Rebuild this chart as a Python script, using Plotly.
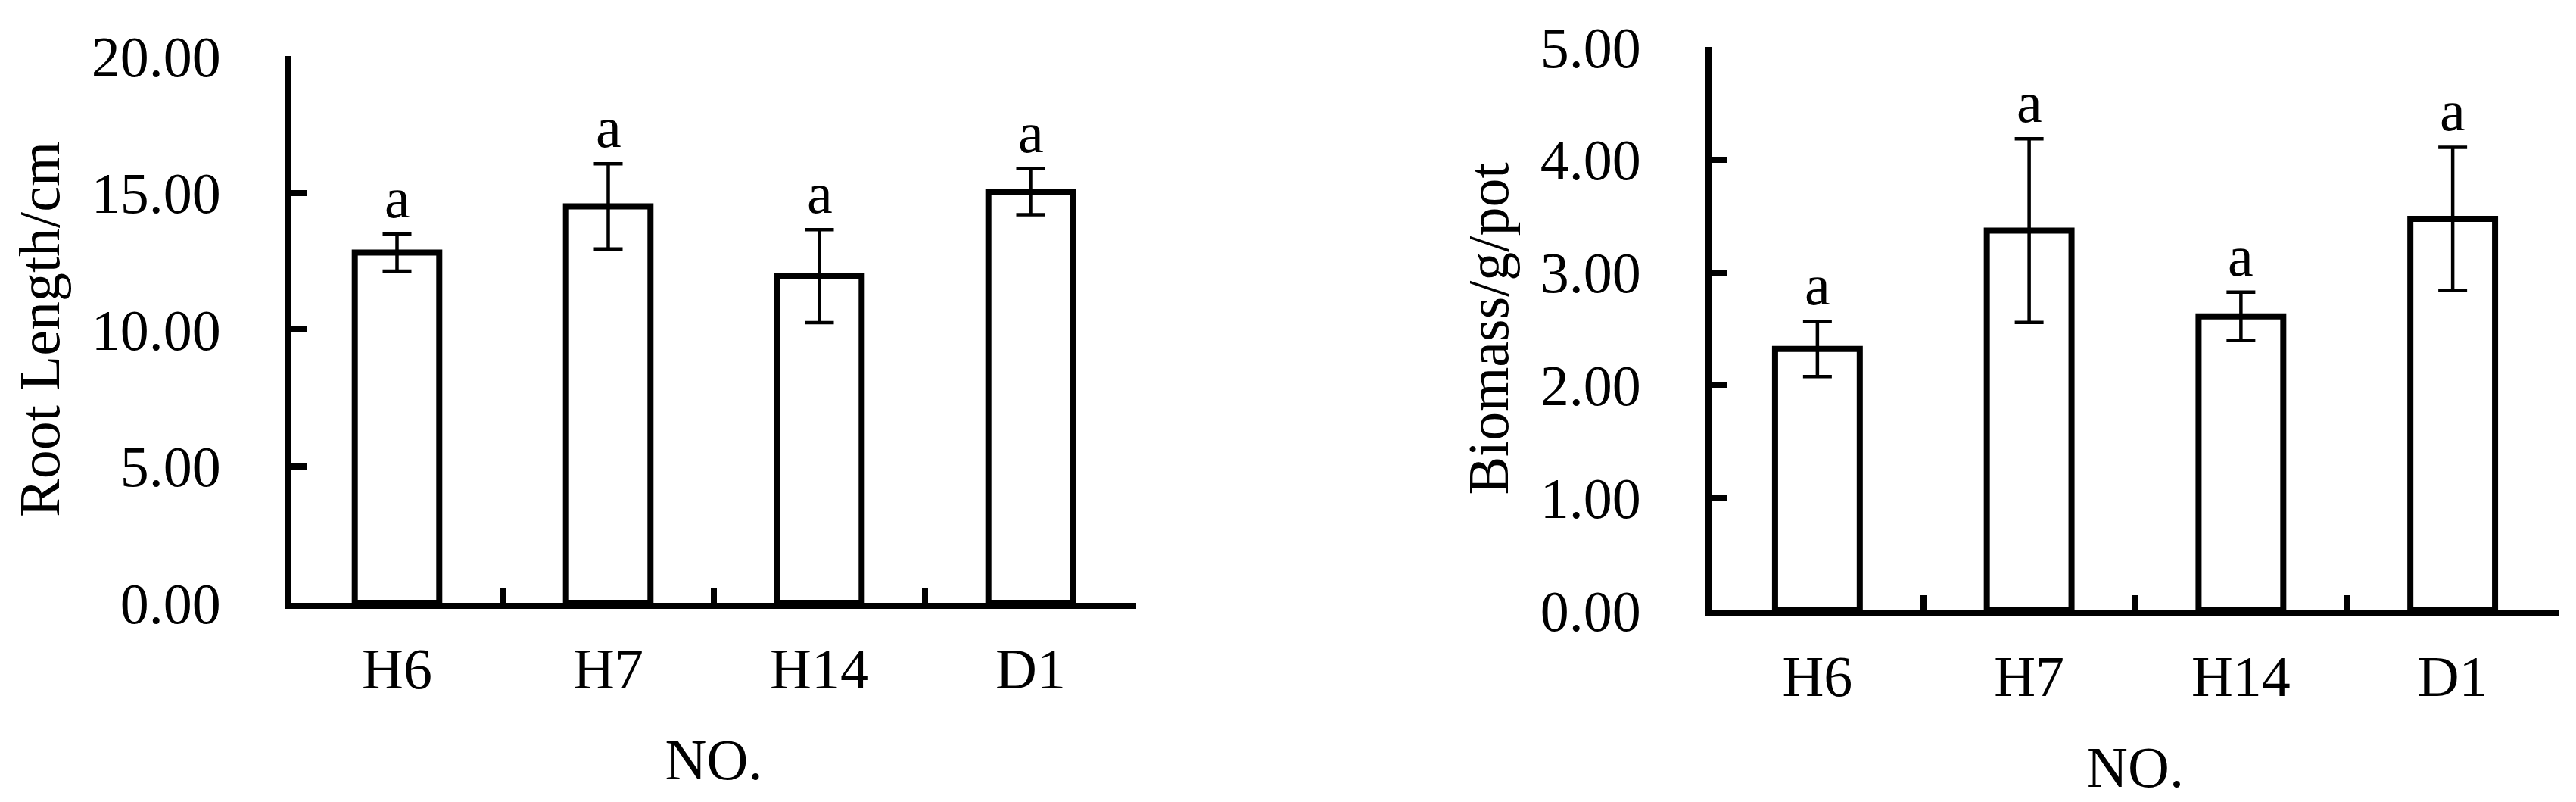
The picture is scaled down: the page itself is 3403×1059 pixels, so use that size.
import plotly.graph_objects as go

# ---- data ----
categories = ["H6", "H7", "H14", "D1"]
root_length = [12.81, 14.50, 11.95, 15.04]
root_length_err = [0.68, 1.56, 1.70, 0.84]
biomass = [2.32, 3.37, 2.61, 3.475]
biomass_err = [0.245, 0.815, 0.215, 0.635]
letters_root = ["a", "a", "a", "a"]
letters_biomass = ["a", "a", "a", "a"]
root_ticks = [0, 5, 10, 15, 20]
biomass_ticks = [0, 1, 2, 3, 4, 5]

FONT = "Liberation Serif, Times New Roman, serif"
FS = 76
W, H = 3403, 1059

fig = go.Figure()

def add_bars(vals, errs, xa, ya):
    fig.add_trace(go.Bar(
        x=categories, y=vals, xaxis=xa, yaxis=ya, width=0.4,
        marker=dict(color="white", line=dict(color="black", width=8)),
        error_y=dict(type="data", array=errs, visible=True,
                     color="black", thickness=4.5, width=19),
        showlegend=False,
    ))

add_bars(root_length, root_length_err, "x", "y")
add_bars(biomass, biomass_err, "x2", "y2")

annotations = []
for cat, v, e, t in zip(categories, root_length, root_length_err, letters_root):
    annotations.append(dict(x=cat, y=v + e, xref="x", yref="y", text=t,
                            showarrow=False, yanchor="bottom", yshift=4,
                            font=dict(family=FONT, size=FS, color="black")))
for cat, v, e, t in zip(categories, biomass, biomass_err, letters_biomass):
    annotations.append(dict(x=cat, y=v + e, xref="x2", yref="y2", text=t,
                            showarrow=False, yanchor="bottom", yshift=4,
                            font=dict(family=FONT, size=FS, color="black")))

def xaxis_style(domain):
    return dict(
        domain=domain, type="category", range=[-0.5, 3.5],
        tickson="boundaries", ticks="inside", ticklen=20, tickwidth=8,
        tickcolor="black", showline=True, linewidth=8, linecolor="black",
        showgrid=False, zeroline=False, automargin=False,
        tickfont=dict(family=FONT, size=FS, color="black"),
        ticklabelstandoff=14,
        title=dict(text="NO.", font=dict(family=FONT, size=FS, color="black"),
                   standoff=55),
    )

def yaxis_style(domain, rng, ticks, title, xa):
    return dict(
        domain=domain, range=rng, anchor=xa,
        tickvals=ticks, ticktext=[f"{t:.2f}" for t in ticks],
        ticks="inside", ticklen=20, tickwidth=8, tickcolor="black",
        showline=True, linewidth=8, linecolor="black",
        showgrid=False, zeroline=False, automargin=False,
        tickfont=dict(family=FONT, size=FS, color="black"),
        ticklabelstandoff=70,
        title=dict(text=title, font=dict(family=FONT, size=FS, color="black"),
                   standoff=20),
    )

fig.update_layout(
    width=W, height=H,
    margin=dict(l=0, r=0, t=0, b=0),
    paper_bgcolor="white", plot_bgcolor="white",
    xaxis=dict(**xaxis_style([377 / W, 1493 / W]), anchor="y"),
    yaxis=yaxis_style([1 - 788 / H, 1 - 66 / H], [0, 20], root_ticks,
                      "Root Length/cm", "x"),
    xaxis2=dict(**xaxis_style([2253 / W, 3372 / W]), anchor="y2"),
    yaxis2=yaxis_style([1 - 798 / H, 1 - 54 / H], [0, 5], biomass_ticks,
                       "Biomass/g/pot", "x2"),
    annotations=annotations,
    bargap=0.6,
)

fig.write_html("out.html")
